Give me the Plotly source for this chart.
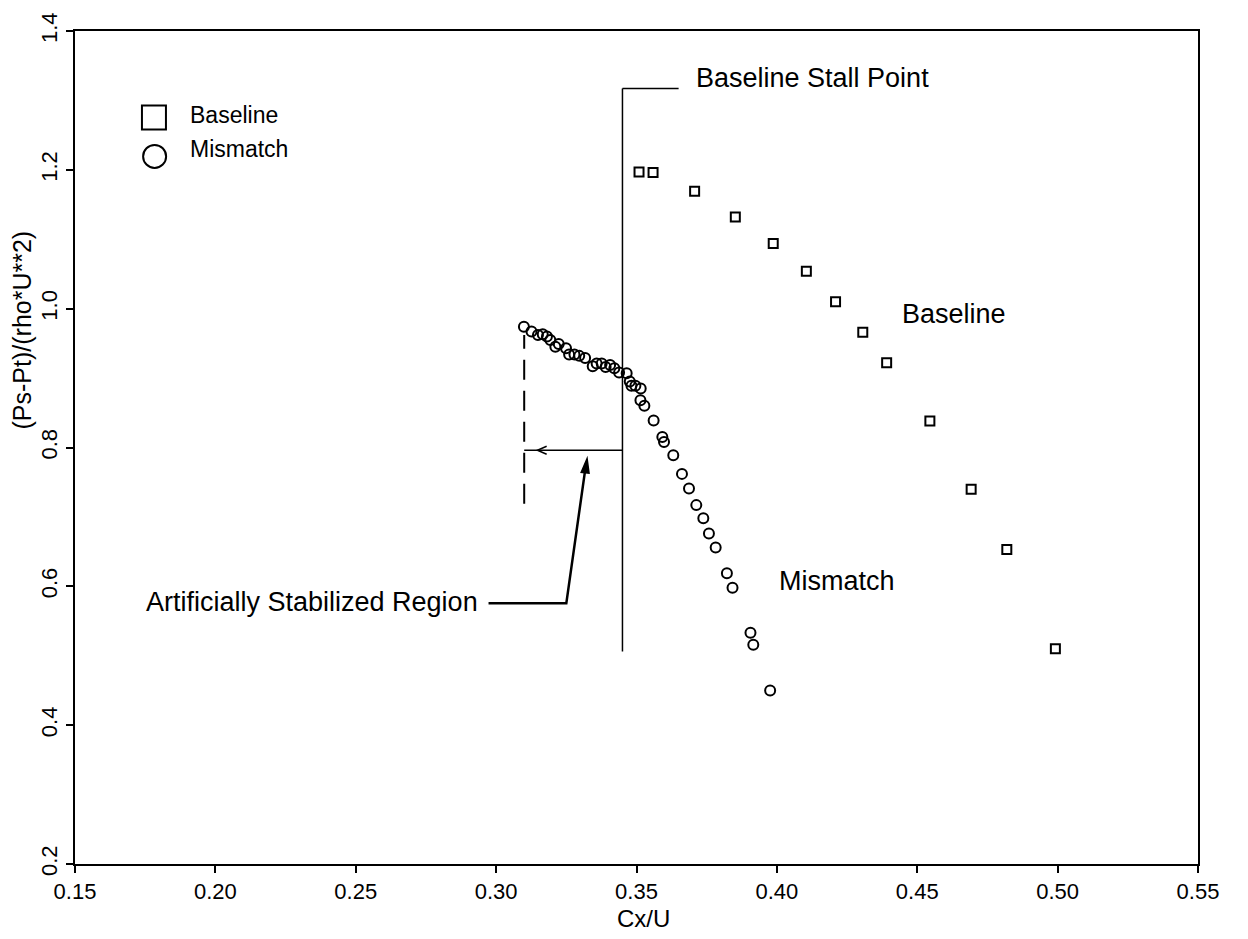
import plotly.graph_objects as go

# ---------------- data ----------------
baseline_x = [0.3509, 0.3559, 0.3707, 0.3852, 0.3987, 0.4105, 0.4209,
              0.4306, 0.4391, 0.4545, 0.4692, 0.4819, 0.4992]
baseline_y = [1.197, 1.196, 1.169, 1.132, 1.094, 1.054, 1.010,
              0.966, 0.922, 0.838, 0.740, 0.653, 0.510]

mismatch_x = [0.3099, 0.3126, 0.3149, 0.3166, 0.3181, 0.3193, 0.3211, 0.3223,
              0.3249, 0.3260, 0.3279, 0.3296, 0.3317, 0.3344, 0.3358, 0.3376,
              0.3390, 0.3406, 0.3421, 0.3438, 0.3465, 0.3476, 0.3482, 0.3496,
              0.3515, 0.3514, 0.3528, 0.3561, 0.3592, 0.3598, 0.3631, 0.3662,
              0.3687, 0.3713, 0.3738, 0.3758, 0.3782, 0.3822, 0.3842, 0.3906,
              0.3916, 0.3976]
mismatch_y = [0.974, 0.967, 0.962, 0.963, 0.960, 0.955, 0.945, 0.949,
              0.943, 0.934, 0.934, 0.932, 0.929, 0.917, 0.921, 0.921,
              0.916, 0.919, 0.914, 0.908, 0.907, 0.895, 0.889, 0.889,
              0.885, 0.868, 0.860, 0.839, 0.815, 0.808, 0.789, 0.762,
              0.741, 0.717, 0.698, 0.676, 0.656, 0.619, 0.598, 0.533,
              0.516, 0.450]

x_ticks = [0.15, 0.20, 0.25, 0.30, 0.35, 0.40, 0.45, 0.50, 0.55]
y_ticks = [0.2, 0.4, 0.6, 0.8, 1.0, 1.2, 1.4]
x_tick_text = ["0.15", "0.20", "0.25", "0.30", "0.35", "0.40", "0.45", "0.50", "0.55"]
y_tick_text = ["0.2", "0.4", "0.6", "0.8", "1.0", "1.2", "1.4"]

# annotation geometry (data units)
stall_x, stall_top, stall_bottom, stall_hook_end = 0.345, 1.317, 0.506, 0.365
stab_x, stab_top, stab_bottom = 0.310, 0.962, 0.719
arrow_y = 0.796

FONT = "Liberation Sans, Arial, sans-serif"
BLACK = "black"

fig = go.Figure()
fig.add_trace(go.Scatter(
    x=baseline_x, y=baseline_y, mode="markers", name="Baseline",
    marker=dict(symbol="square-open", size=9, color=BLACK, line=dict(width=2, color=BLACK)),
    showlegend=False))
fig.add_trace(go.Scatter(
    x=mismatch_x, y=mismatch_y, mode="markers", name="Mismatch",
    marker=dict(symbol="circle-open", size=10, color=BLACK, line=dict(width=2, color=BLACK)),
    showlegend=False))

shapes = [
    # baseline stall point line
    dict(type="line", xref="x", yref="y", x0=stall_x, x1=stall_x, y0=stall_bottom, y1=stall_top,
         line=dict(color=BLACK, width=1.5)),
    dict(type="line", xref="x", yref="y", x0=stall_x, x1=stall_hook_end, y0=stall_top, y1=stall_top,
         line=dict(color=BLACK, width=1.5)),
    # dashed limit of stabilized region
    dict(type="line", xref="x", yref="y", x0=stab_x, x1=stab_x, y0=stab_bottom, y1=stab_top,
         line=dict(color=BLACK, width=2, dash="20px,11px")),
    # horizontal arrow from stall line to dashed line
    dict(type="line", xref="x", yref="y", x0=stab_x, x1=stall_x, y0=arrow_y, y1=arrow_y,
         line=dict(color=BLACK, width=1.5)),
    dict(type="path", xref="x", yref="y",
         path=f"M 0.3180,{arrow_y + 0.0058} L 0.3147,{arrow_y} L 0.3180,{arrow_y - 0.0058}",
         line=dict(color=BLACK, width=1.5)),
    # pointer from the region label
    dict(type="path", xref="x", yref="y",
         path="M 0.2973,0.5755 L 0.3250,0.5755 L 0.3318,0.7700",
         line=dict(color=BLACK, width=2.5)),
    dict(type="path", xref="x", yref="y",
         path="M 0.3324,0.7841 L 0.3331,0.7630 L 0.3303,0.7642 Z",
         fillcolor=BLACK, line=dict(color=BLACK, width=1.5)),
    # legend symbols
    dict(type="rect", xref="paper", yref="paper", xsizemode="pixel", ysizemode="pixel",
         xanchor=0.0703, yanchor=0.8961, x0=-12, x1=12, y0=-12, y1=12,
         line=dict(color=BLACK, width=2)),
    dict(type="circle", xref="paper", yref="paper", xsizemode="pixel", ysizemode="pixel",
         xanchor=0.0709, yanchor=0.8494, x0=-11.5, x1=11.5, y0=-11.5, y1=11.5,
         line=dict(color=BLACK, width=2)),
]

ann_font = dict(family=FONT, size=27, color=BLACK)
annotations = [
    dict(x=0.3706, y=1.333, xref="x", yref="y", text="Baseline Stall Point", showarrow=False,
         xanchor="left", yanchor="middle", font=ann_font),
    dict(x=0.444, y=0.992, xref="x", yref="y", text="Baseline", showarrow=False,
         xanchor="left", yanchor="middle", font=ann_font),
    dict(x=0.3999, y=0.6077, xref="x", yref="y", text="Mismatch", showarrow=False,
         xanchor="left", yanchor="middle", font=ann_font),
    dict(x=0.2942, y=0.577, xref="x", yref="y", text="Artificially Stabilized Region", showarrow=False,
         xanchor="right", yanchor="middle", font=ann_font),
    # legend labels
    dict(x=0.1004, y=0.8996, xref="paper", yref="paper", text="Baseline", showarrow=False,
         xanchor="left", yanchor="middle", font=dict(family=FONT, size=23, color=BLACK)),
    dict(x=0.1009, y=0.8587, xref="paper", yref="paper", text="Mismatch", showarrow=False,
         xanchor="left", yanchor="middle", font=dict(family=FONT, size=23, color=BLACK)),
    # axis titles
    dict(x=0.5058, y=-0.0655, xref="paper", yref="paper", text="Cx/U", showarrow=False,
         xanchor="center", yanchor="middle", font=dict(family=FONT, size=24, color=BLACK)),
    dict(x=-0.0472, y=0.6417, xref="paper", yref="paper", text="(Ps-Pt)/(rho*U**2)", showarrow=False,
         textangle=-90, xanchor="center", yanchor="middle", font=dict(family=FONT, size=25, color=BLACK)),
]

axis_common = dict(showline=True, linewidth=2, linecolor=BLACK, mirror=True,
                   ticks="outside", ticklen=7, tickwidth=1.5, tickcolor=BLACK,
                   showgrid=False, zeroline=False,
                   tickfont=dict(family=FONT, size=22, color=BLACK))

fig.update_layout(
    width=1248, height=939,
    margin=dict(l=75, r=50, t=24, b=75),
    paper_bgcolor="white", plot_bgcolor="white",
    xaxis=dict(range=[0.15, 0.55], tickvals=x_ticks, ticktext=x_tick_text, **axis_common),
    yaxis=dict(range=[0.2, 1.4], tickvals=y_ticks, ticktext=y_tick_text, tickangle=-90, **axis_common),
    shapes=shapes, annotations=annotations, showlegend=False,
)

fig.write_html("out.html")
